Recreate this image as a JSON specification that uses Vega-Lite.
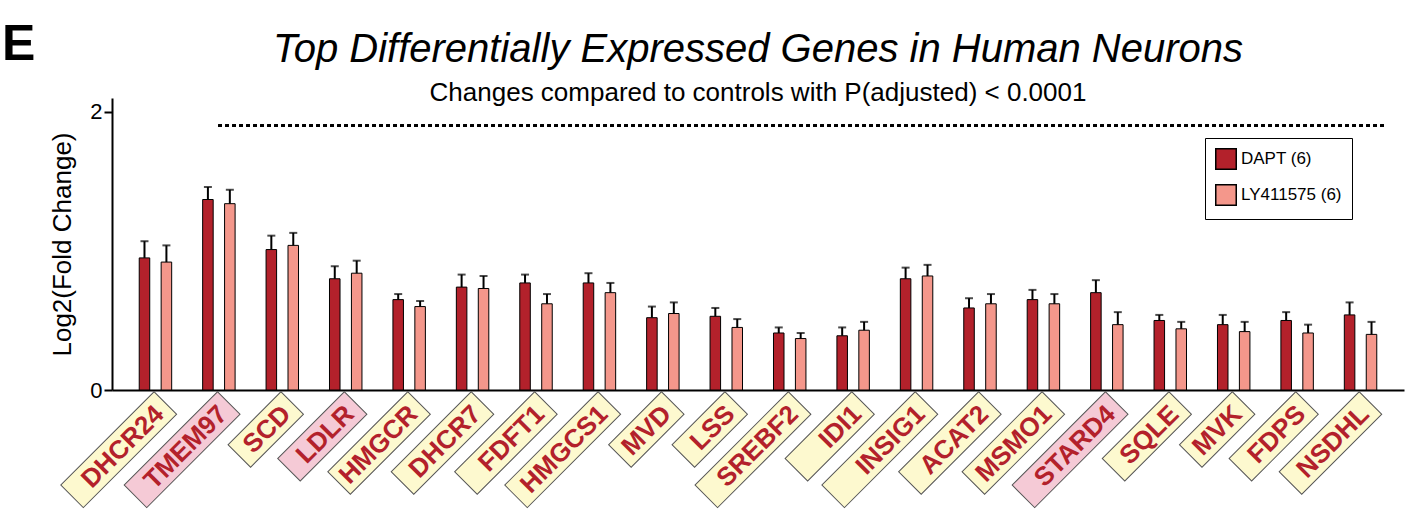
{
  "$schema": "https://vega.github.io/schema/vega-lite/v6.json",
  "autosize": {"type": "none"},
  "padding": {"left": 112, "top": 98, "right": 6, "bottom": 125},
  "width": 1292,
  "height": 292,
  "title": {
    "text": "Top Differentially Expressed Genes in Human Neurons",
    "subtitle": "Changes compared to controls with P(adjusted) < 0.0001",
    "font": "Liberation Sans",
    "fontSize": 40,
    "fontStyle": "italic",
    "fontWeight": "normal",
    "subtitleFont": "Liberation Sans",
    "subtitleFontSize": 26,
    "subtitleColor": "black",
    "subtitlePadding": 10,
    "offset": -86,
    "anchor": "middle"
  },
  "datasets": {
    "genes": [
      {"gene": "DHCR24", "series": "DAPT (6)", "value": 0.95, "upper": 1.07, "highlight": "yellow"},
      {"gene": "DHCR24", "series": "LY411575 (6)", "value": 0.92, "upper": 1.04, "highlight": "yellow"},
      {"gene": "TMEM97", "series": "DAPT (6)", "value": 1.37, "upper": 1.46, "highlight": "pink"},
      {"gene": "TMEM97", "series": "LY411575 (6)", "value": 1.34, "upper": 1.44, "highlight": "pink"},
      {"gene": "SCD", "series": "DAPT (6)", "value": 1.01, "upper": 1.11, "highlight": "yellow"},
      {"gene": "SCD", "series": "LY411575 (6)", "value": 1.04, "upper": 1.13, "highlight": "yellow"},
      {"gene": "LDLR", "series": "DAPT (6)", "value": 0.80, "upper": 0.89, "highlight": "pink"},
      {"gene": "LDLR", "series": "LY411575 (6)", "value": 0.84, "upper": 0.93, "highlight": "pink"},
      {"gene": "HMGCR", "series": "DAPT (6)", "value": 0.65, "upper": 0.69, "highlight": "yellow"},
      {"gene": "HMGCR", "series": "LY411575 (6)", "value": 0.60, "upper": 0.64, "highlight": "yellow"},
      {"gene": "DHCR7", "series": "DAPT (6)", "value": 0.74, "upper": 0.83, "highlight": "yellow"},
      {"gene": "DHCR7", "series": "LY411575 (6)", "value": 0.73, "upper": 0.82, "highlight": "yellow"},
      {"gene": "FDFT1", "series": "DAPT (6)", "value": 0.77, "upper": 0.83, "highlight": "yellow"},
      {"gene": "FDFT1", "series": "LY411575 (6)", "value": 0.62, "upper": 0.69, "highlight": "yellow"},
      {"gene": "HMGCS1", "series": "DAPT (6)", "value": 0.77, "upper": 0.84, "highlight": "yellow"},
      {"gene": "HMGCS1", "series": "LY411575 (6)", "value": 0.70, "upper": 0.77, "highlight": "yellow"},
      {"gene": "MVD", "series": "DAPT (6)", "value": 0.52, "upper": 0.60, "highlight": "yellow"},
      {"gene": "MVD", "series": "LY411575 (6)", "value": 0.55, "upper": 0.63, "highlight": "yellow"},
      {"gene": "LSS", "series": "DAPT (6)", "value": 0.53, "upper": 0.59, "highlight": "yellow"},
      {"gene": "LSS", "series": "LY411575 (6)", "value": 0.45, "upper": 0.51, "highlight": "yellow"},
      {"gene": "SREBF2", "series": "DAPT (6)", "value": 0.41, "upper": 0.45, "highlight": "yellow"},
      {"gene": "SREBF2", "series": "LY411575 (6)", "value": 0.37, "upper": 0.41, "highlight": "yellow"},
      {"gene": "IDI1", "series": "DAPT (6)", "value": 0.39, "upper": 0.45, "highlight": "yellow"},
      {"gene": "IDI1", "series": "LY411575 (6)", "value": 0.43, "upper": 0.49, "highlight": "yellow"},
      {"gene": "INSIG1", "series": "DAPT (6)", "value": 0.80, "upper": 0.88, "highlight": "yellow"},
      {"gene": "INSIG1", "series": "LY411575 (6)", "value": 0.82, "upper": 0.90, "highlight": "yellow"},
      {"gene": "ACAT2", "series": "DAPT (6)", "value": 0.59, "upper": 0.66, "highlight": "yellow"},
      {"gene": "ACAT2", "series": "LY411575 (6)", "value": 0.62, "upper": 0.69, "highlight": "yellow"},
      {"gene": "MSMO1", "series": "DAPT (6)", "value": 0.65, "upper": 0.72, "highlight": "yellow"},
      {"gene": "MSMO1", "series": "LY411575 (6)", "value": 0.62, "upper": 0.69, "highlight": "yellow"},
      {"gene": "STARD4", "series": "DAPT (6)", "value": 0.70, "upper": 0.79, "highlight": "pink"},
      {"gene": "STARD4", "series": "LY411575 (6)", "value": 0.47, "upper": 0.56, "highlight": "pink"},
      {"gene": "SQLE", "series": "DAPT (6)", "value": 0.50, "upper": 0.54, "highlight": "yellow"},
      {"gene": "SQLE", "series": "LY411575 (6)", "value": 0.44, "upper": 0.49, "highlight": "yellow"},
      {"gene": "MVK", "series": "DAPT (6)", "value": 0.47, "upper": 0.54, "highlight": "yellow"},
      {"gene": "MVK", "series": "LY411575 (6)", "value": 0.42, "upper": 0.49, "highlight": "yellow"},
      {"gene": "FDPS", "series": "DAPT (6)", "value": 0.50, "upper": 0.56, "highlight": "yellow"},
      {"gene": "FDPS", "series": "LY411575 (6)", "value": 0.41, "upper": 0.47, "highlight": "yellow"},
      {"gene": "NSDHL", "series": "DAPT (6)", "value": 0.54, "upper": 0.63, "highlight": "yellow"},
      {"gene": "NSDHL", "series": "LY411575 (6)", "value": 0.40, "upper": 0.49, "highlight": "yellow"}
    ]
  },
  "data": {"name": "genes"},
  "config": {
    "view": {"stroke": null},
    "font": "Liberation Sans",
    "axis": {"domainColor": "black", "domainWidth": 2, "tickColor": "black", "tickWidth": 2, "grid": false}
  },
  "layer": [
    {
      "mark": {"type": "bar", "stroke": "black", "strokeWidth": 1},
      "encoding": {
        "x": {
          "field": "gene",
          "type": "nominal",
          "sort": null,
          "scale": {
            "domain": ["DHCR24", "TMEM97", "SCD", "LDLR", "HMGCR", "DHCR7", "FDFT1", "HMGCS1", "MVD", "LSS", "SREBF2", "IDI1", "INSIG1", "ACAT2", "MSMO1", "STARD4", "SQLE", "MVK", "FDPS", "NSDHL"],
            "paddingInner": 0.35,
            "paddingOuter": 0.36
          },
          "axis": {"labels": false, "ticks": false, "title": null}
        },
        "xOffset": {
          "field": "series",
          "type": "nominal",
          "scale": {"paddingInner": 0.52, "paddingOuter": 0.2}
        },
        "y": {
          "field": "value",
          "type": "quantitative",
          "scale": {"domain": [0, 2.1], "nice": false},
          "axis": {
            "values": [0, 1, 2],
            "format": "d",
            "title": "Log2(Fold Change)",
            "titleFontSize": 26,
            "titleFontWeight": "normal",
            "titleColor": "black",
            "titlePadding": 14,
            "labelFontSize": 22,
            "labelColor": "black",
            "tickSize": 8
          }
        },
        "color": {
          "field": "series",
          "type": "nominal",
          "scale": {"domain": ["DAPT (6)", "LY411575 (6)"], "range": ["#b3212b", "#f4978b"]},
          "legend": {
            "title": null,
            "orient": "none",
            "legendX": 1093,
            "legendY": 40,
            "strokeColor": "black",
            "padding": 10,
            "symbolType": "square",
            "symbolSize": 420,
            "symbolStrokeColor": "black",
            "symbolStrokeWidth": 1.5,
            "labelFontSize": 17,
            "labelColor": "black",
            "rowPadding": 8,
            "fillColor": "white"
          }
        }
      }
    },
    {
      "mark": {"type": "rule", "strokeDash": [3, 4], "strokeWidth": 2.5, "color": "black"},
      "encoding": {
        "x": {"datum": "TMEM97", "bandPosition": 0.5},
        "x2": {"datum": "NSDHL", "bandPosition": 1.13},
        "y": {"datum": 1.9}
      }
    },
    {
      "mark": {"type": "rule", "color": "black", "strokeWidth": 2},
      "encoding": {
        "x": {"field": "gene", "type": "nominal", "sort": null},
        "xOffset": {"field": "series", "type": "nominal"},
        "y": {"field": "value", "type": "quantitative"},
        "y2": {"field": "upper"}
      }
    },
    {
      "mark": {"type": "tick", "color": "black", "thickness": 2, "size": 8},
      "encoding": {
        "x": {"field": "gene", "type": "nominal", "sort": null},
        "xOffset": {"field": "series", "type": "nominal"},
        "y": {"field": "upper", "type": "quantitative"}
      }
    },
    {
      "transform": [{"filter": "datum.series == 'DAPT (6)'"}],
      "mark": {"type": "point", "filled": true, "opacity": 1, "angle": 315, "stroke": "#555", "strokeWidth": 1, "size": 16900},
      "encoding": {
        "x": {"field": "gene", "type": "nominal", "sort": null, "bandPosition": 0.74},
        "y": {"datum": -0.094},
        "shape": {
          "condition": [
            {"test": "length(datum.gene) <= 3", "value": "M-1.15,-0.245H0V0.245H-1.15Z"},
            {"test": "length(datum.gene) == 4", "value": "M-1.45,-0.245H0V0.245H-1.45Z"},
            {"test": "length(datum.gene) == 5", "value": "M-1.74,-0.245H0V0.245H-1.74Z"}
          ],
          "value": "M-2.03,-0.245H0V0.245H-2.03Z"
        },
        "fill": {
          "condition": {"test": "datum.highlight == 'pink'", "value": "#f5cad6"},
          "value": "#fdf9cf"
        }
      }
    },
    {
      "transform": [{"filter": "datum.series == 'DAPT (6)'"}],
      "mark": {"type": "text", "angle": 315, "align": "right", "baseline": "middle", "dx": -9, "dy": 1, "fontSize": 26, "fontWeight": "bold", "color": "#b3212b"},
      "encoding": {
        "x": {"field": "gene", "type": "nominal", "sort": null, "bandPosition": 0.74},
        "y": {"datum": -0.094},
        "text": {"field": "gene"}
      }
    },
    {
      "data": {"values": [{"letter": "E"}]},
      "mark": {"type": "text", "fontSize": 50, "fontWeight": "bold", "align": "left", "baseline": "middle", "color": "black"},
      "encoding": {
        "x": {"value": -110},
        "y": {"value": -53},
        "text": {"field": "letter"}
      }
    }
  ]
}
